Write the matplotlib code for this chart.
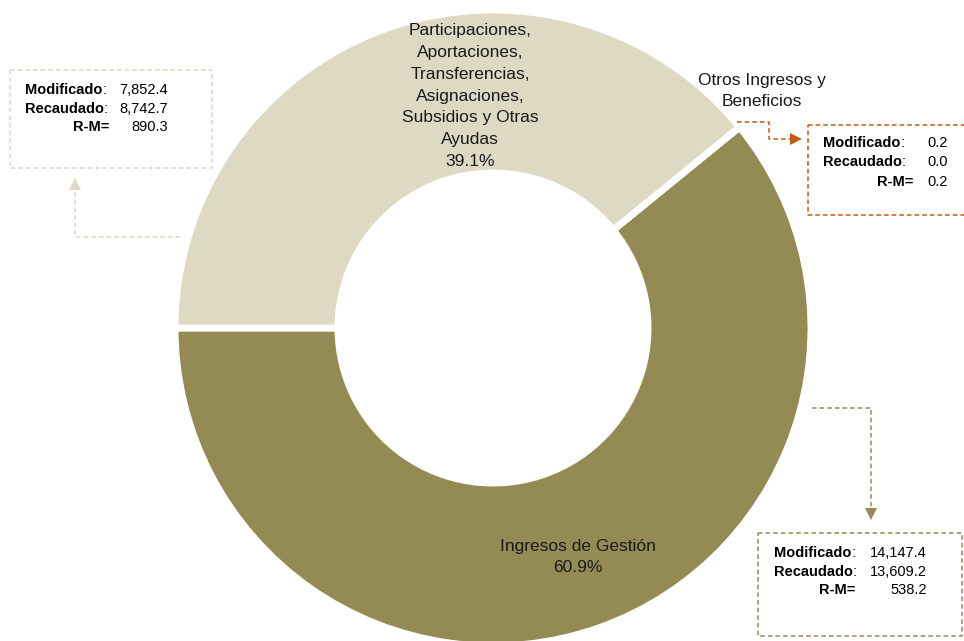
import numpy as np
import matplotlib
matplotlib.use("Agg")
import matplotlib.pyplot as plt

plt.rcParams['font.family'] = ['Liberation Sans', 'DejaVu Sans']

# data (millones de pesos)
categories = ['Ingresos de Gestión', 'Otros Ingresos y Beneficios',
              'Participaciones,\nAportaciones,\nTransferencias,\nAsignaciones,\nSubsidios y Otras\nAyudas']
modificado = [14147.4, 0.2, 7852.4]
recaudado = [13609.2, 0.0, 8742.7]
colors = ['#948A54', '#C55A11', '#DDD9C3']

W, H = 964, 641
def Y(y):
    # pixel row (from top) -> data y
    return H - y

fig = plt.figure(figsize=(W / 100, H / 100), dpi=100)
ax = fig.add_axes([0, 0, 1, 1])

ax.pie(recaudado, colors=colors, startangle=180, counterclock=True,
       radius=318, center=(493, Y(328)),
       wedgeprops=dict(width=163, edgecolor='white', linewidth=5))
ax.set_xlim(0, W)
ax.set_ylim(0, H)
ax.set_aspect('equal')
ax.axis('off')

pct = np.array(recaudado) / np.sum(recaudado) * 100

# slice labels
ax.text(578, Y(557), f'{categories[0]}\n{pct[0]:.1f}%', ha='center', va='center',
        fontsize=12.5, color='#1a1a1a', linespacing=1.5)
ax.text(470, Y(96), f'{categories[2]}\n{pct[2]:.1f}%', ha='center', va='center',
        fontsize=12.5, color='#1a1a1a', linespacing=1.56)
ax.text(762, Y(91), 'Otros Ingresos y\nBeneficios', ha='center', va='center',
        fontsize=12.5, color='#1a1a1a', linespacing=1.45)

FS = 10.5


def info_box(rect, color, x_lab, x_rm, x_val, ys, i):
    x0, y0, x1, y1 = rect
    ax.plot([x0, x1, x1, x0, x0], [Y(y0), Y(y0), Y(y1), Y(y1), Y(y0)],
            color=color, lw=1.1, dashes=(3, 2), clip_on=False)
    for lab, vals, y in zip(['Modificado', 'Recaudado'], [modificado, recaudado], ys[:2]):
        t = ax.text(x_lab, Y(y), lab, fontsize=FS, fontweight='bold',
                    ha='left', va='center', color='black')
        ax.annotate(':', xy=(1, 0), xycoords=t, ha='left', va='bottom',
                    fontsize=FS, color='black')
        ax.text(x_val, Y(y), f'{vals[i]:,.1f}', fontsize=FS, ha='right',
                va='center', color='black')
    ax.text(x_rm, Y(ys[2]), 'R-M=', fontsize=FS, fontweight='bold', ha='right',
            va='center', color='black')
    ax.text(x_val, Y(ys[2]), f'{recaudado[i] - modificado[i]:,.1f}'.replace('-', ''),
            fontsize=FS, ha='right', va='center', color='black')


def connector(pts, color, marker):
    xs = [p[0] for p in pts]
    ys = [Y(p[1]) for p in pts]
    ax.plot(xs, ys, color=color, lw=1.1, dashes=(3, 2))
    ax.plot(xs[-1], ys[-1], marker=marker, color=color, markersize=9,
            markeredgewidth=0)


# Participaciones box
info_box((10, 70, 212, 168), colors[2], 25, 109, 168, [90, 109, 127], 2)
connector([(180, 237), (75, 237), (75, 184)], colors[2], '^')

# Otros box
info_box((808, 125, 975, 215), colors[1], 823, 913, 948, [143, 162, 182], 1)
connector([(737, 122), (769, 122), (769, 139), (796, 139)], colors[1], '>')

# Gestión box
info_box((758, 533, 962, 636), colors[0], 774, 855, 927, [553, 572, 590], 0)
connector([(812, 408), (871, 408), (871, 514)], colors[0], 'v')

fig.savefig('out.png', dpi=100)
